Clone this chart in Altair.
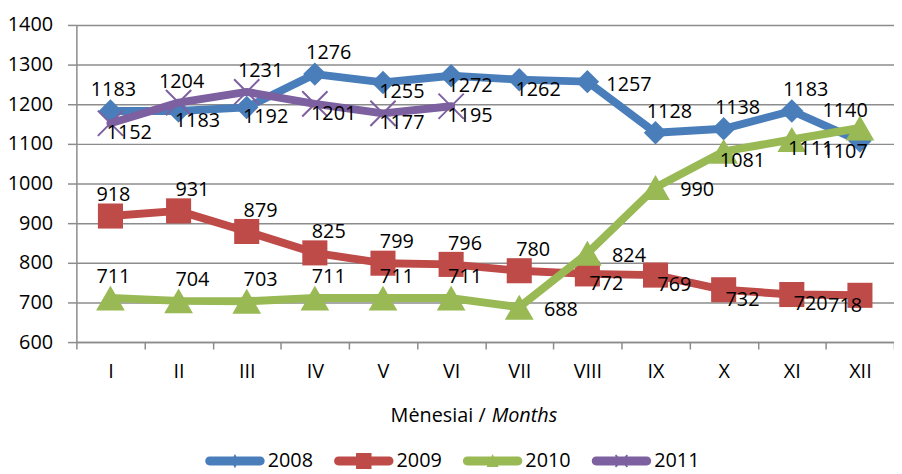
import altair as alt
import pandas as pd

# ---- data ----
months = ["I", "II", "III", "IV", "V", "VI", "VII", "VIII", "IX", "X", "XI", "XII"]
series = ["2008", "2009", "2010", "2011"]
v2008 = [1183, 1183, 1192, 1276, 1255, 1272, 1262, 1257, 1128, 1138, 1183, 1107]
v2009 = [918, 931, 879, 825, 799, 796, 780, 772, 769, 732, 720, 718]
v2010 = [711, 704, 703, 711, 711, 711, 688, 824, 990, 1081, 1111, 1140]
v2011 = [1152, 1204, 1231, 1201, 1177, 1195]
y_ticks = [600, 700, 800, 900, 1000, 1100, 1200, 1300, 1400]

# ---- styling (kept apart from the values) ----
colors = ["#4A7EBB", "#BE4B48", "#98B954", "#7D60A0"]
# data-label placement for each point (Excel label position)
p2008 = ["t", "b", "b", "a", "b", "b", "b", "r", "a", "a", "a", "bl"]
p2009 = ["t", "a", "a", "a", "a", "a", "a", "b", "b", "b", "b", "bl"]
p2010 = ["t", "a", "a", "a", "a", "a", "r", "r", "r", "b", "b", "tl"]
p2011 = ["b", "t", "a", "b", "b", "b"]
offsets = {"t": (3, -21), "a": (14, -21), "b": (19, 10), "r": (42, 3),
           "bl": (-15, 11), "tl": (-15, -17)}

FONT = "Open Sans"
FS = 20
GRID = "#8c8c8c"

rows = []
for s, vals, plc in zip(series, [v2008, v2009, v2010, v2011], [p2008, p2009, p2010, p2011]):
    for m, v, p in zip(months, vals, plc):
        rows.append({"series": s, "month": m, "value": v, "place": p})
df = pd.DataFrame(rows)

x_enc = alt.X("month:N", sort=months,
              scale=alt.Scale(type="band", paddingInner=0, paddingOuter=0),
              axis=alt.Axis(title=None, tickBand="extent", tickSize=7, tickColor=GRID,
                            tickWidth=1.5, domainColor=GRID, domainWidth=1.5,
                            labelFont=FONT, labelFontSize=FS, labelColor="black",
                            labelPadding=13, labelAngle=0, grid=False))
y_enc = alt.Y("value:Q", scale=alt.Scale(domain=[600, 1400], nice=False, zero=False),
              axis=alt.Axis(title=None, values=y_ticks, format="d", grid=True, gridColor=GRID,
                            gridWidth=1.5, tickSize=9, tickColor=GRID, tickWidth=1.5,
                            domainColor=GRID, domainWidth=1.5, labelFont=FONT,
                            labelFontSize=FS, labelColor="black", labelPadding=15))

base = alt.Chart(df)

marker_specs = [
    dict(shape="diamond", size=560, filled=True),
    dict(shape="square", size=640, filled=True),
    dict(shape="triangle-up", size=840, filled=True),
    dict(shape="M-1,-1L1,1M-1,1L1,-1", size=650, filled=False, strokeWidth=2),
]

layers = []
for s, c, ms in zip(series, colors, marker_specs):
    sub = base.transform_filter(alt.datum.series == s)
    layers.append(sub.mark_line(color=c, strokeWidth=8, strokeCap="round",
                                strokeJoin="round").encode(x=x_enc, y=y_enc))
    layers.append(sub.mark_point(color=c, opacity=1, **ms).encode(x=x_enc, y=y_enc))

for key, (dx, dy) in offsets.items():
    layers.append(
        base.transform_filter(alt.datum.place == key)
        .mark_text(dx=dx, dy=dy, font=FONT, fontSize=FS, color="black",
                   align="center", baseline="middle")
        .encode(x=x_enc, y=y_enc, text=alt.Text("value:Q", format="d"))
    )

# legend symbols: line with marker in the middle
cap = "M-0.85,-0.15L0.85,-0.15A0.15,0.15 0 0 1 0.85,0.15L-0.85,0.15A0.15,0.15 0 0 1 -0.85,-0.15Z"
leg_shapes = [
    cap + "M0,-0.24L0.13,0L0,0.24L-0.13,0Z",
    cap + "M-0.26,-0.27L0.26,-0.27L0.26,0.27L-0.26,0.27Z",
    cap + "M0,-0.24L0.2,0.2L-0.2,0.2Z",
    cap + "M-0.22,-0.18L-0.18,-0.22L0.22,0.18L0.18,0.22Z"
          "M0.18,-0.22L0.22,-0.18L-0.18,0.22L-0.22,0.18Z",
]
leg = alt.Legend(title=None, orient="none", legendX=130, legendY=410,
                 direction="horizontal", columns=4, symbolSize=3600,
                 symbolStrokeWidth=0, symbolOpacity=1, labelFont=FONT,
                 labelFontSize=FS, labelColor="black", labelOffset=3,
                 columnPadding=21, padding=0, offset=0)
layers.append(
    base.mark_point(filled=True, opacity=0).encode(
        x=x_enc, y=y_enc,
        color=alt.Color("series:N", scale=alt.Scale(domain=series, range=colors), legend=leg),
        shape=alt.Shape("series:N", scale=alt.Scale(domain=series, range=leg_shapes), legend=leg),
    )
)

# axis title with italic part
title_src = alt.Data(values=[{"k": 1}])
layers.append(alt.Chart(title_src).mark_text(
    text="Mėnesiai /", font=FONT, fontSize=FS, color="black", align="right",
    baseline="alphabetic").encode(x=alt.value(413), y=alt.value(401)))
layers.append(alt.Chart(title_src).mark_text(
    text="Months", font=FONT, fontSize=FS, color="black", fontStyle="italic",
    align="left", baseline="alphabetic").encode(x=alt.value(419), y=alt.value(401)))

chart = alt.layer(*layers).properties(
    width=825, height=320,
    autosize=alt.AutoSizeParams(type="none"),
    padding={"left": 69, "top": 15, "right": 0, "bottom": 131},
    background="white",
).configure_view(stroke=None)

chart.save("out.html", embed_options={"renderer": "svg", "actions": False})
